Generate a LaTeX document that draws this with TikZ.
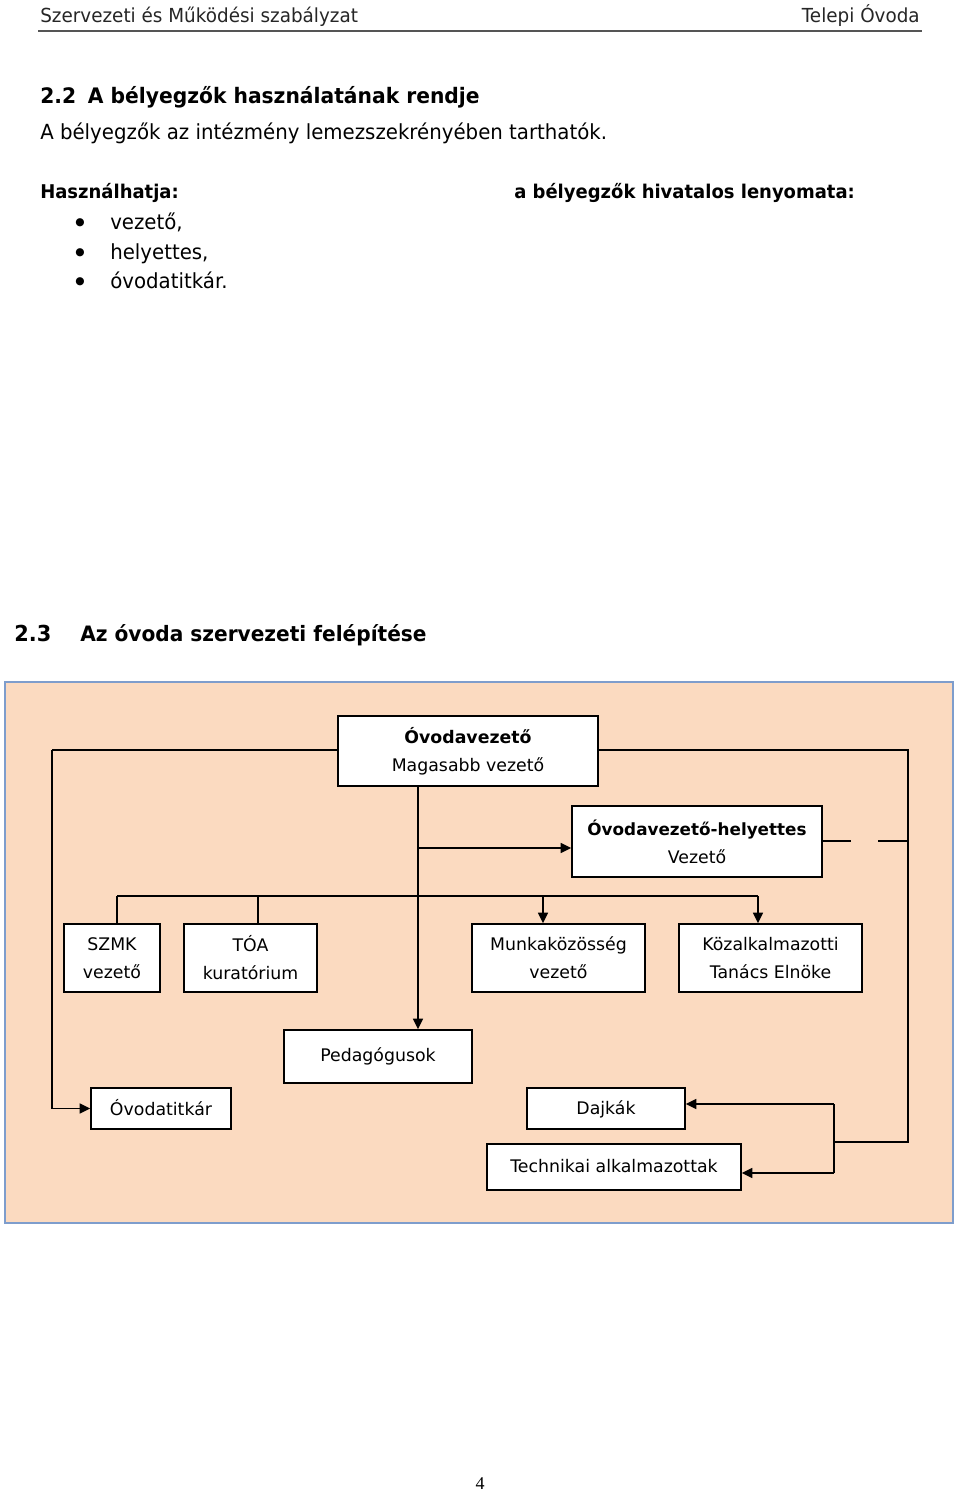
\documentclass[tikz,border=0pt]{standalone}
\usepackage{fontspec}
\setmainfont{DejaVu Sans}
\newfontfamily\condfont[FakeStretch=0.95]{DejaVu Sans}
\newfontfamily\serifpn{Liberation Serif}
\usetikzlibrary{arrows.meta}
\definecolor{peach}{HTML}{FBDAC0}
\definecolor{frameblue}{HTML}{7E9DCC}
\definecolor{hdrgray}{HTML}{555555}
\begin{document}
\begin{tikzpicture}[x=0.75pt,y=-0.75pt,
  box/.style={draw=black, fill=white, line width=1.1pt, align=center, inner sep=0pt,
    font=\fontsize{13}{21}\selectfont},
  conn/.style={line width=1.2pt},
  arr/.style={conn, -{Triangle[length=8pt,width=7.5pt]}},
  toptext/.style={anchor=base west, inner sep=0pt, font=\condfont\fontsize{15.6}{18}\selectfont},
  topbold/.style={toptext, font=\condfont\bfseries\fontsize{14.2}{18}\selectfont},
  bul/.style={anchor=center, inner sep=0pt, font=\fontsize{8}{9}\selectfont},
]
\useasboundingbox (0,0) rectangle (960,1491);
\fill[white] (0,0) rectangle (960,1491);

% header
\node[toptext, font=\condfont\fontsize{14.5}{16}\selectfont, text=black!85] (hl) at (40,23) {Szervezeti és Működési szabályzat};
\node[toptext, anchor=base east, font=\condfont\fontsize{14.5}{16}\selectfont, text=black!85] (hr) at (920,23) {Telepi Óvoda};
\draw[hdrgray, line width=1.5pt] (38,31) -- (922,31);

% section 2.2
\node[toptext, font=\condfont\bfseries\fontsize{16}{18}\selectfont] (h22) at (40,104) {2.2\hspace{0.55em}A bélyegzők használatának rendje};
\node[toptext] (t1) at (40,140) {A bélyegzők az intézmény lemezszekrényében tarthatók.};
\node[topbold] (t2) at (40,199) {Használhatja:};
\node[topbold] (t3) at (514,199) {a bélyegzők hivatalos lenyomata:};
\node[bul] (b1) at (80,223) {●};
\node[bul] (b2) at (80,253) {●};
\node[bul] (b3) at (80,282) {●};
\node[toptext] (l1) at (110,229) {vezető,};
\node[toptext] (l2) at (110,259) {helyettes,};
\node[toptext] (l3) at (110,288) {óvodatitkár.};

% section 2.3
\node[toptext, font=\condfont\bfseries\fontsize{16.5}{19}\selectfont] (h23a) at (14,641) {2.3};
\node[toptext, font=\condfont\bfseries\fontsize{15.9}{19}\selectfont] (h23b) at (80,641) {Az óvoda szervezeti felépítése};

% frame
\draw[fill=peach, draw=frameblue, line width=2.2pt] (5,682) rectangle (953,1223);

% boxes
\node[box, minimum width=260*0.75pt, minimum height=70*0.75pt] (ov) at (468,751) {\textbf{Óvodavezető}\\Magasabb vezető};
\node[box, minimum width=250*0.75pt, minimum height=71*0.75pt] (hely) at (697,841.5) {{\fontsize{12.6}{21}\selectfont\textbf{Óvodavezető-helyettes}}\\Vezető};
\node[box, minimum width=96*0.75pt, minimum height=68*0.75pt] (szmk) at (112,958) {SZMK\\vezető};
\node[box, minimum width=133*0.75pt, minimum height=68*0.75pt] (toa) at (250.5,958) {TÓA\\kuratórium};
\node[box, minimum width=173*0.75pt, minimum height=68*0.75pt] (munka) at (558.5,958) {Munkaközösség\\vezető};
\node[box, minimum width=183*0.75pt, minimum height=68*0.75pt] (koz) at (770.5,958) {Közalkalmazotti\\Tanács Elnöke};
\node[box, minimum width=188*0.75pt, minimum height=53*0.75pt, text depth=0.25em] (ped) at (378,1056.5) {Pedagógusok};
\node[box, minimum width=140*0.75pt, minimum height=41*0.75pt, text depth=0.15em] (tit) at (161,1108.5) {Óvodatitkár};
\node[box, minimum width=158*0.75pt, minimum height=41*0.75pt, text depth=0.15em] (daj) at (606,1108.5) {Dajkák};
\node[box, minimum width=254*0.75pt, minimum height=46*0.75pt, text depth=0.15em] (tech) at (614,1167) {Technikai alkalmazottak};

% coordinates
\coordinate (L1) at (52,750);
\coordinate (R1) at (908,750);
\coordinate (R2) at (908,1142);
\coordinate (T1) at (834,1142);
\coordinate (T2) at (834,1104);
\coordinate (T3) at (834,1173);
\coordinate (G1) at (851,841);
\coordinate (G2) at (878,841);
\coordinate (R3) at (908,841);
\coordinate (V1) at (418,786);
\coordinate (B1) at (418,848);
\coordinate (H1) at (117,896);
\coordinate (H2) at (258,896);
\coordinate (H3) at (543,896);
\coordinate (H4) at (758,896);

% connectors
\draw[conn] (L1 -| ov.west) -- (L1);
\draw[arr] (L1) |- (tit.west);
\draw[conn] (R1 -| ov.east) -- (R1) -- (R2) -- (T1);
\draw[conn] (T2) -- (T3);
\draw[arr] (T2) -- (T2 -| daj.east);
\draw[arr] (T3) -- (T3 -| tech.east);
\draw[conn] (G1 -| hely.east) -- (G1);
\draw[conn] (G2) -- (R3);
\draw[arr] (V1) -- (V1 |- ped.north);
\draw[arr] (B1) -- (B1 -| hely.west);
\draw[conn] (H1) -- (H4);
\draw[conn] (H1) -- (H1 |- szmk.north);
\draw[conn] (H2) -- (H2 |- toa.north);
\draw[arr] (H3) -- (H3 |- munka.north);
\draw[arr] (H4) -- (H4 |- koz.north);

% page number
\node[inner sep=0pt, anchor=base, font=\serifpn\fontsize{13.5}{16}\selectfont] (pg) at (480,1489) {4};
\end{tikzpicture}
\end{document}
